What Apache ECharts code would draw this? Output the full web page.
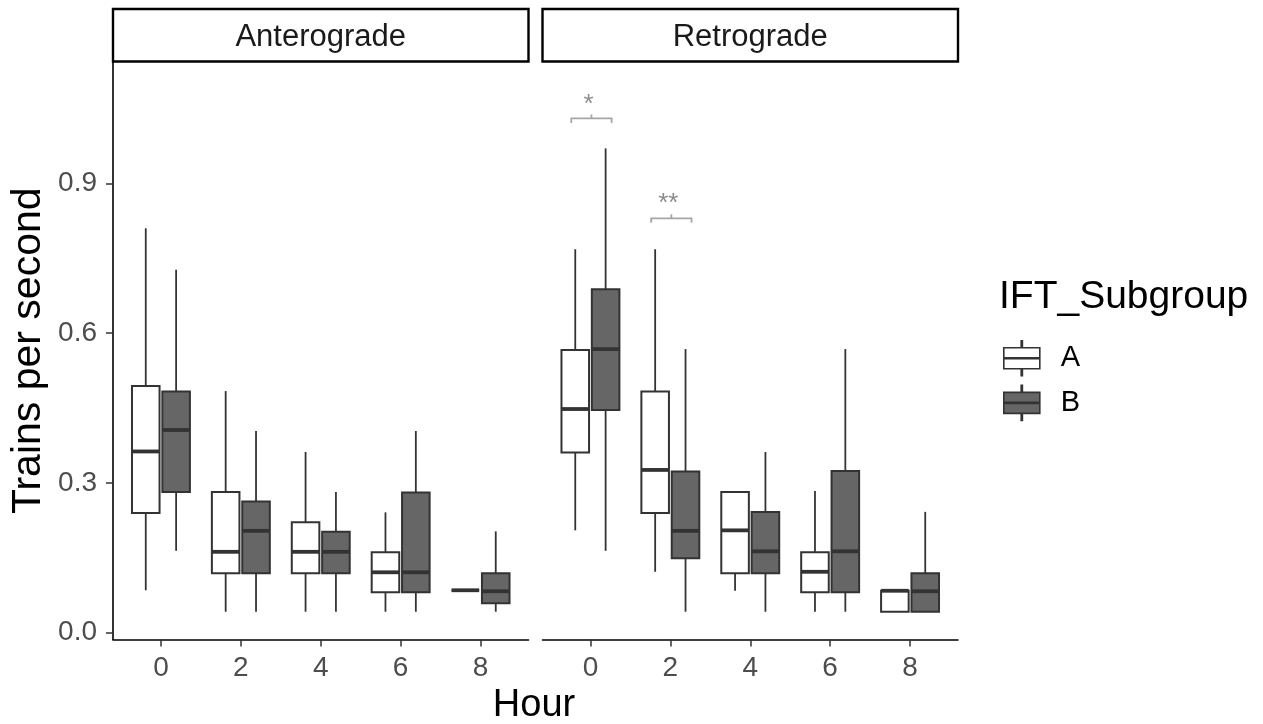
<!DOCTYPE html>
<html>
<head>
<meta charset="utf-8">
<script src="https://cdn.jsdelivr.net/npm/echarts@6/dist/echarts.min.js"></script>
<style>html,body{margin:0;padding:0;background:#fff}#c{width:1263px;height:724px}</style>
</head>
<body>
<div id="c"></div>
<script>
// ---------- data ----------
const hours = ['0', '2', '4', '6', '8'];
const panels = ['Anterograde', 'Retrograde'];
const groups = ['A', 'B'];
const yTicks = [0.0, 0.3, 0.6, 0.9];
// each row: [lower whisker, Q1, median, Q3, upper whisker]
const anteroA = [
  [0.085, 0.240, 0.363, 0.494, 0.810],
  [0.042, 0.119, 0.162, 0.282, 0.484],
  [0.042, 0.119, 0.162, 0.221, 0.362],
  [0.042, 0.081, 0.121, 0.161, 0.241],
  [0.085, 0.085, 0.085, 0.085, 0.085]
];
const anteroB = [
  [0.164, 0.282, 0.406, 0.483, 0.727],
  [0.042, 0.119, 0.204, 0.263, 0.404],
  [0.042, 0.119, 0.162, 0.202, 0.282],
  [0.042, 0.081, 0.121, 0.281, 0.404],
  [0.042, 0.059, 0.083, 0.119, 0.203]
];
const retroA = [
  [0.205, 0.361, 0.448, 0.566, 0.768],
  [0.122, 0.240, 0.326, 0.483, 0.768],
  [0.084, 0.119, 0.205, 0.282, 0.282],
  [0.042, 0.081, 0.122, 0.161, 0.284],
  [0.042, 0.042, 0.084, 0.084, 0.084]
];
const retroB = [
  [0.164, 0.446, 0.568, 0.688, 0.970],
  [0.042, 0.149, 0.204, 0.323, 0.568],
  [0.042, 0.119, 0.163, 0.242, 0.362],
  [0.042, 0.081, 0.163, 0.324, 0.568],
  [0.042, 0.042, 0.083, 0.119, 0.242]
];
// significance annotations (Retrograde panel)
const sigHourIndex = [0, 1];
const sigY = [1.030, 0.830];
const sigLabels = ['*', '**'];

// ---------- style ----------
const FONT = 'Liberation Sans, Arial, sans-serif';
const STROKE = '#333333';
const FILLS = {A: '#ffffff', B: '#666666'};
const OFFSETS = {A: -0.19, B: 0.19};
const BOX_W = 0.345;
const GRID_TOP = 62, GRID_H = 577.5, GRID_W = 415.5;
const GRID_LEFTS = [113, 542.5];
const Y_MIN = -0.0136, Y_MAX = 1.143;

function boxRender(group) {
  const off = OFFSETS[group];
  const fill = FILLS[group];
  return function (params, api) {
    const x = api.value(0) + off;
    const lo = api.value(1), q1 = api.value(2), med = api.value(3), q3 = api.value(4), hi = api.value(5);
    const tl = api.coord([x - BOX_W / 2, q3]);
    const br = api.coord([x + BOX_W / 2, q1]);
    const cHi = api.coord([x, hi]), cQ3 = api.coord([x, q3]), cQ1 = api.coord([x, q1]), cLo = api.coord([x, lo]);
    const mL = api.coord([x - BOX_W / 2, med]), mR = api.coord([x + BOX_W / 2, med]);
    const wStyle = {stroke: STROKE, lineWidth: 1.8};
    return {
      type: 'group',
      children: [
        {type: 'line', shape: {x1: cHi[0], y1: cHi[1], x2: cQ3[0], y2: cQ3[1]}, style: wStyle},
        {type: 'line', shape: {x1: cQ1[0], y1: cQ1[1], x2: cLo[0], y2: cLo[1]}, style: wStyle},
        {type: 'rect', shape: {x: tl[0], y: tl[1], width: br[0] - tl[0], height: br[1] - tl[1]},
          style: {fill: fill, stroke: STROKE, lineWidth: 2}},
        {type: 'line', shape: {x1: mL[0], y1: mL[1], x2: mR[0], y2: mR[1]}, style: {stroke: STROKE, lineWidth: 3.8}}
      ]
    };
  };
}

function sigRender(params, api) {
  const h = api.value(0), y = api.value(1);
  const l = api.coord([h - 0.24, y]);
  const r = api.coord([h + 0.265, y]);
  const mid = (l[0] + r[0]) / 2;
  const st = {stroke: '#a6a6a6', lineWidth: 1.8, fill: null};
  return {
    type: 'group',
    children: [
      {type: 'polyline', shape: {points: [[l[0], l[1] + 4.5], [l[0], l[1]], [r[0], r[1]], [r[0], r[1] + 4.5]]}, style: st},
      {type: 'line', shape: {x1: mid, y1: l[1], x2: mid, y2: l[1] - 4}, style: st},
      {type: 'text', x: mid - 3, y: l[1] - 1, style: {text: sigLabels[params.dataIndex], fill: '#8c8c8c',
        font: '26px ' + FONT, align: 'center', verticalAlign: 'bottom'}}
    ]
  };
}

function toData(arr) { return arr.map((v, i) => [i].concat(v)); }

const grids = GRID_LEFTS.map(l => ({left: l, top: GRID_TOP, width: GRID_W, height: GRID_H}));
const xAxes = GRID_LEFTS.map((l, i) => ({
  type: 'value', gridIndex: i, min: -0.6, max: 4.6,
  axisLine: {show: true, onZero: false, lineStyle: {color: '#000', width: 1.6}},
  axisTick: {show: true, length: 7, lineStyle: {color: STROKE, width: 1.5}, customValues: [0, 1, 2, 3, 4]},
  axisLabel: {show: true, customValues: [0, 1, 2, 3, 4], formatter: v => hours[Math.round(v)],
    color: '#4d4d4d', fontSize: 28, fontFamily: FONT, margin: 15},
  splitLine: {show: false}
}));
const yAxes = GRID_LEFTS.map((l, i) => ({
  type: 'value', gridIndex: i, min: Y_MIN, max: Y_MAX,
  show: i === 0,
  name: i === 0 ? 'Trains per second' : '',
  nameLocation: 'middle', nameRotate: 90, nameGap: 64,
  nameTextStyle: {fontSize: 41, color: '#000', fontFamily: FONT},
  axisLine: {show: true, onZero: false, lineStyle: {color: '#000', width: 1.6}},
  axisTick: {show: true, length: 7, lineStyle: {color: STROKE, width: 1.5}, customValues: yTicks},
  axisLabel: {show: true, customValues: yTicks, formatter: v => v.toFixed(1),
    color: '#4d4d4d', fontSize: 28, fontFamily: FONT, margin: 16},
  splitLine: {show: false}
}));

const datasets = [[anteroA, anteroB], [retroA, retroB]];
const series = [];
datasets.forEach((pair, pi) => {
  pair.forEach((arr, gi) => {
    series.push({
      type: 'custom', name: groups[gi], xAxisIndex: pi, yAxisIndex: pi,
      renderItem: boxRender(groups[gi]),
      encode: {x: 0, y: [1, 2, 3, 4, 5]},
      itemStyle: {color: FILLS[groups[gi]], borderColor: STROKE},
      data: toData(arr), silent: true
    });
  });
});
series.push({
  type: 'custom', name: 'sig', xAxisIndex: 1, yAxisIndex: 1, renderItem: sigRender,
  encode: {x: 0, y: 1}, silent: true,
  data: sigHourIndex.map((h, i) => [h, sigY[i]])
});

const ICON = 'path://M0,7 L36,7 L36,28 L0,28 Z M0,17 L36,17 L36,18 L0,18 Z M17.4,0 L18.6,0 L18.6,7 L17.4,7 Z M17.4,28 L18.6,28 L18.6,35 L17.4,35 Z';

const strips = panels.flatMap((p, i) => [
  {type: 'rect', shape: {x: GRID_LEFTS[i], y: 9, width: GRID_W, height: 52.5},
    style: {fill: '#fff', stroke: '#000', lineWidth: 2.4}},
  {type: 'text', x: GRID_LEFTS[i] + GRID_W / 2, y: 37,
    style: {text: p, font: '31px ' + FONT, fill: '#1a1a1a', align: 'center', verticalAlign: 'middle'}}
]);

const chart = echarts.init(document.getElementById('c'), null, {renderer: 'canvas'});
chart.setOption({
  animation: false,
  backgroundColor: '#fff',
  title: {text: 'IFT_Subgroup', left: 999, top: 278, padding: 0,
    textStyle: {fontSize: 39, fontWeight: 'normal', color: '#000', fontFamily: FONT}},
  legend: {
    orient: 'vertical', left: 1003, top: 340, padding: 0, itemGap: 8,
    itemWidth: 36, itemHeight: 35,
    textStyle: {fontSize: 29, color: '#000', fontFamily: FONT, padding: [5, 0, 0, 16]},
    selectedMode: false,
    data: groups.map(g => ({name: g, icon: ICON,
      itemStyle: {color: FILLS[g], borderColor: STROKE, borderWidth: 1.6}}))
  },
  grid: grids,
  xAxis: xAxes,
  yAxis: yAxes,
  series: series,
  graphic: strips.concat([
    {type: 'text', x: 534, y: 706,
      style: {text: 'Hour', font: '38px ' + FONT, fill: '#000', align: 'center', verticalAlign: 'middle'}}
  ])
});
</script>
</body>
</html>
